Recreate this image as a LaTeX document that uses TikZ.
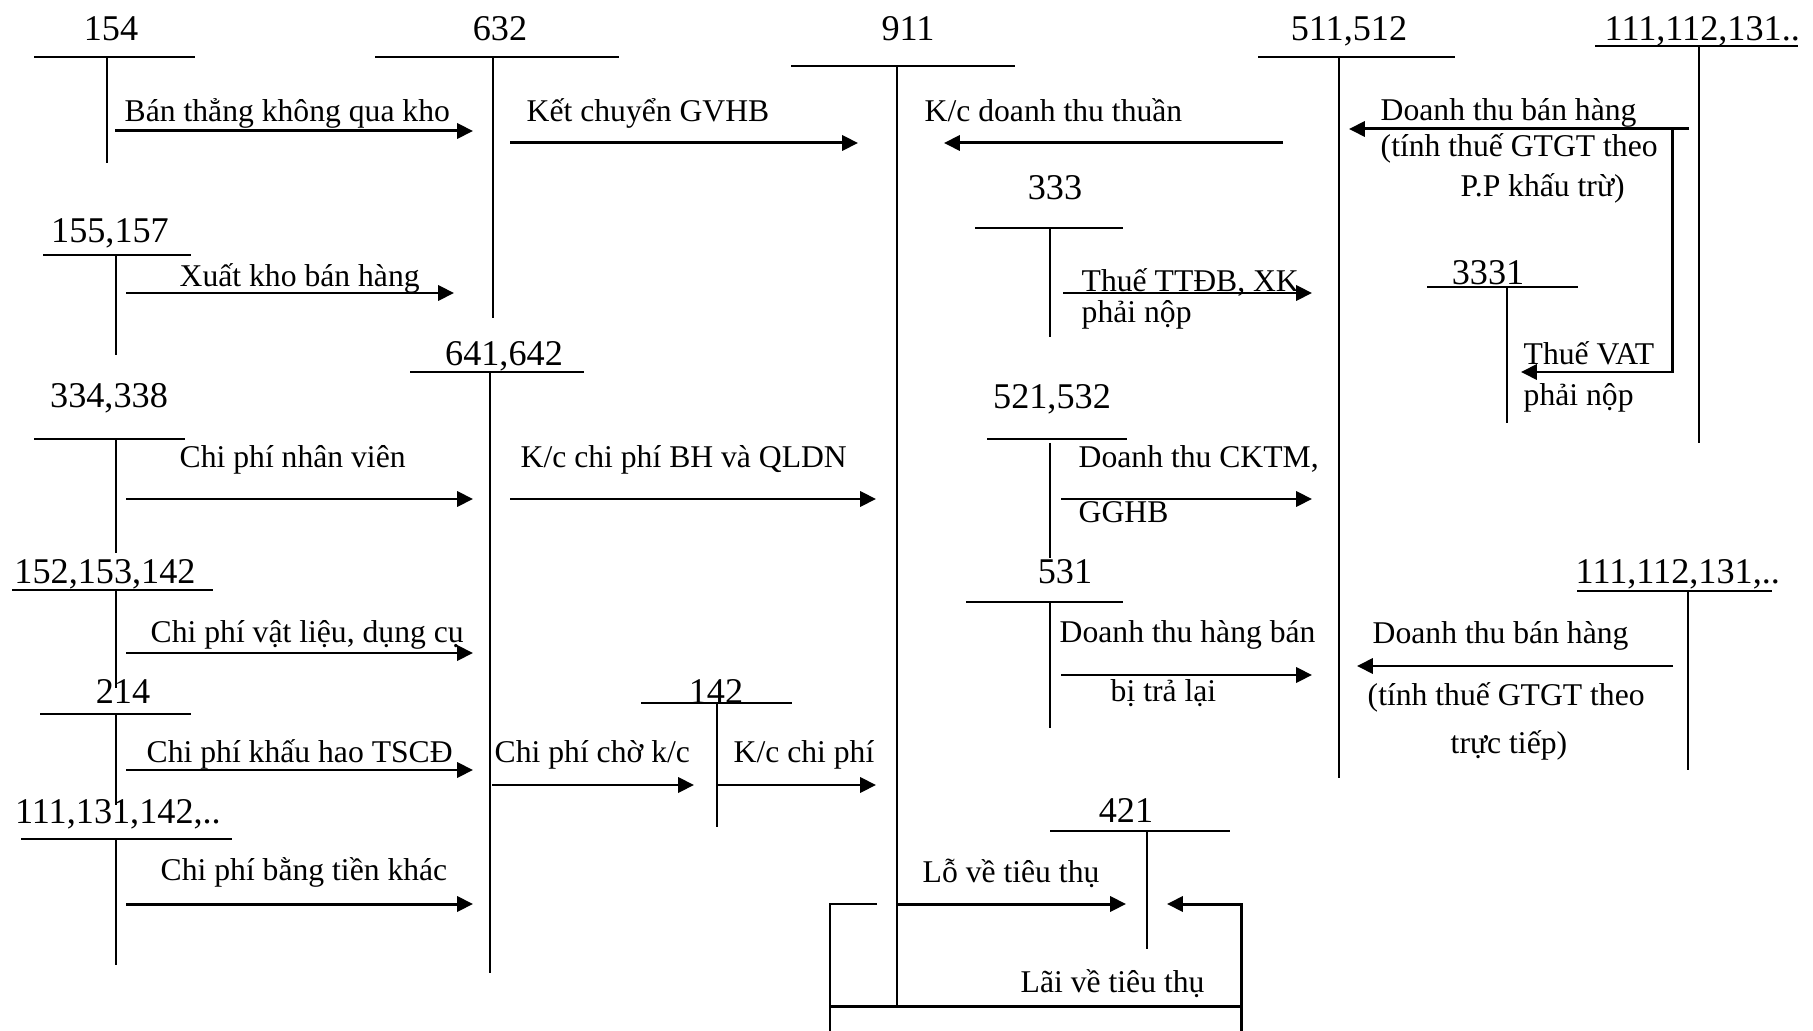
\documentclass[tikz,border=0pt]{standalone}
\usepackage{fontspec}
\setmainfont{Liberation Serif}
\usetikzlibrary{arrows.meta}

\begin{document}
\begin{tikzpicture}[x=0.01cm, y=-0.01cm,
    acc/.style={anchor=base, inner sep=0pt, font=\fontsize{10.3}{12}\selectfont},
    lbl/.style={anchor=base west, inner sep=0pt, font=\fontsize{9}{11}\selectfont},
    tline/.style={line width=0.6pt},
    arr/.style={-{Triangle[length=4.5pt, width=4.3pt]}, line width=0.85pt},
    link/.style={line width=0.85pt}
]
    \useasboundingbox (0,0) rectangle (1813,1031);

    % account names
    \node[acc] (a154)  at (111,41)   {154};
    \node[acc] (a632)  at (500,41)   {632};
    \node[acc] (a911)  at (908,41)   {911};
    \node[acc] (a511)  at (1349,41)  {511,512};
    \node[acc, anchor=base west] (a111t) at (1604,41) {111,112,131..};
    \node[acc] (a333)  at (1055,200) {333};
    \node[acc] (a3331) at (1488,285) {3331};
    \node[acc] (a155)  at (110,243)  {155,157};
    \node[acc] (a641)  at (504,366)  {641,642};
    \node[acc] (a334)  at (109,408)  {334,338};
    \node[acc] (a152)  at (105,583)  {152,153,142};
    \node[acc] (a214)  at (123,703)  {214};
    \node[acc] (a111l) at (118,823)  {111,131,142,..};
    \node[acc] (a142)  at (716,703)  {142};
    \node[acc] (a521)  at (1052,409) {521,532};
    \node[acc] (a531)  at (1065,583) {531};
    \node[acc, anchor=base west] (a111b) at (1575,583) {111,112,131,..};
    \node[acc] (a421)  at (1126,822) {421};

    % T accounts
    \draw[tline] (34,57) -- (195,57) (107,57) -- (107,163);
    \draw[tline] (375,57) -- (619,57) (493,57) -- (493,318);
    \draw[tline] (791,66) -- (1015,66) (897,66) -- (897,1006);
    \draw[tline] (1258,57) -- (1455,57) (1339,57) -- (1339,778);
    \draw[tline] (1595,46) -- (1798,46) (1699,46) -- (1699,443);
    \draw[tline] (975,228) -- (1123,228) (1050,228) -- (1050,337);
    \draw[tline] (1427,287) -- (1578,287) (1507,287) -- (1507,423);
    \draw[tline] (43,255) -- (191,255) (116,255) -- (116,355);
    \draw[tline] (410,372) -- (584,372) (490,372) -- (490,973);
    \draw[tline] (34,439) -- (185,439) (116,439) -- (116,553);
    \draw[tline] (12,590) -- (213,590) (116,590) -- (116,688);
    \draw[tline] (40,714) -- (191,714) (116,714) -- (116,805);
    \draw[tline] (21,839) -- (232,839) (116,839) -- (116,965);
    \draw[tline] (641,703) -- (792,703) (717,703) -- (717,827);
    \draw[tline] (987,439) -- (1127,439) (1050,443) -- (1050,558);
    \draw[tline] (966,602) -- (1123,602) (1050,602) -- (1050,728);
    \draw[tline] (1577,591) -- (1772,591) (1688,591) -- (1688,770);
    \draw[tline] (1050,831) -- (1230,831) (1147,831) -- (1147,949);

    % texts
    \node[lbl] (tBan)   at (124,122)  {Bán thẳng không qua kho};
    \node[lbl] (tKet)   at (526,122)  {Kết chuyển GVHB};
    \node[lbl] (tKcDt)  at (924,122)  {K/c doanh thu thuần};
    \node[lbl] (tDtA)   at (1380,121) {Doanh thu bán hàng};
    \node[lbl] (tDtAb)  at (1380,157) {(tính thuế GTGT theo};
    \node[lbl] (tDtAc)  at (1460,197) {P.P khấu trừ)};
    \node[lbl] (tVat)   at (1523,365) {Thuế VAT};
    \node[lbl] (tVatb)  at (1523,406) {phải nộp};
    \node[lbl] (tTtdb)  at (1081,292) {Thuế TTĐB, XK};
    \node[lbl] (tTtdbb) at (1081,323) {phải nộp};
    \node[lbl] (tXuat)  at (179,287)  {Xuất kho bán hàng};
    \node[lbl] (tNv)    at (179,468)  {Chi phí nhân viên};
    \node[lbl] (tBh)    at (520,468)  {K/c chi phí BH và QLDN};
    \node[lbl] (tCk)    at (1078,468) {Doanh thu CKTM,};
    \node[lbl] (tCkb)   at (1078,523) {GGHB};
    \node[lbl] (tVl)    at (150,642)  {Chi phí vật liệu, dụng cụ};
    \node[lbl] (tTl)    at (1059,642) {Doanh thu hàng bán};
    \node[lbl] (tTlb)   at (1110,701) {bị trả lại};
    \node[lbl] (tDtB)   at (1372,643) {Doanh thu bán hàng};
    \node[lbl] (tDtBb)  at (1367,705) {(tính thuế GTGT theo};
    \node[lbl] (tDtBc)  at (1450,753) {trực tiếp)};
    \node[lbl] (tKh)    at (146,762)  {Chi phí khấu hao TSCĐ};
    \node[lbl] (tCho)   at (494,762)  {Chi phí chờ k/c};
    \node[lbl] (tKcCp)  at (733,762)  {K/c chi phí};
    \node[lbl] (tTien)  at (160,880)  {Chi phí bằng tiền khác};
    \node[lbl] (tLo)    at (922,882)  {Lỗ về tiêu thụ};
    \node[lbl] (tLai)   at (1020,992) {Lãi về tiêu thụ};

    % arrow ends
    \coordinate (banS) at (115,131);   \coordinate (banE) at (473,131);
    \coordinate (ketS) at (510,143);   \coordinate (ketE) at (858,143);
    \coordinate (dtS)  at (1283,143);  \coordinate (dtE)  at (944,143);
    \coordinate (dtaS) at (1689,129);  \coordinate (dtaE) at (1349,129);
    \coordinate (vatS) at (1672,129);  \coordinate (vatM) at (1672,372);
    \coordinate (vatE) at (1521,372);
    \coordinate (ttS)  at (1063,293);  \coordinate (ttE)  at (1312,293);
    \coordinate (xkS)  at (126,293);   \coordinate (xkE)  at (454,293);
    \coordinate (nvS)  at (126,499);   \coordinate (nvE)  at (473,499);
    \coordinate (bhS)  at (510,499);   \coordinate (bhE)  at (876,499);
    \coordinate (ckS)  at (1061,499);  \coordinate (ckE)  at (1312,499);
    \coordinate (vlS)  at (126,653);   \coordinate (vlE)  at (473,653);
    \coordinate (tlS)  at (1061,675);  \coordinate (tlE)  at (1312,675);
    \coordinate (dtbS) at (1673,666);  \coordinate (dtbE) at (1357,666);
    \coordinate (khS)  at (126,770);   \coordinate (khE)  at (473,770);
    \coordinate (chS)  at (492,785);   \coordinate (chE)  at (694,785);
    \coordinate (kcS)  at (717,785);   \coordinate (kcE)  at (876,785);
    \coordinate (tkS)  at (126,904);   \coordinate (tkE)  at (473,904);
    \coordinate (loS)  at (897,904);   \coordinate (loE)  at (1126,904);
    \coordinate (lbA)  at (877,904);   \coordinate (lbB)  at (830,904);
    \coordinate (lbC)  at (830,1031);
    \coordinate (rbA)  at (1241,1031); \coordinate (rbB)  at (1241,904);
    \coordinate (rbC)  at (1167,904);
    \coordinate (btL)  at (830,1006);  \coordinate (btR)  at (1241,1006);

    \draw[arr] (banS) -- (banE);
    \draw[arr] (ketS) -- (ketE);
    \draw[arr] (dtS) -- (dtE);
    \draw[arr] (dtaS) -- (dtaE);
    \draw[arr] (vatS) -- (vatM) -- (vatE);
    \draw[arr] (ttS) -- (ttE);
    \draw[arr] (xkS) -- (xkE);
    \draw[arr] (nvS) -- (nvE);
    \draw[arr] (bhS) -- (bhE);
    \draw[arr] (ckS) -- (ckE);
    \draw[arr] (vlS) -- (vlE);
    \draw[arr] (tlS) -- (tlE);
    \draw[arr] (dtbS) -- (dtbE);
    \draw[arr] (khS) -- (khE);
    \draw[arr] (chS) -- (chE);
    \draw[arr] (kcS) -- (kcE);
    \draw[arr] (tkS) -- (tkE);
    \draw[arr] (loS) -- (loE);

    % result to 421
    \draw[tline] (lbA) -- (lbB) -- (lbC);
    \draw[arr] (rbA) -- (rbB) -- (rbC);
    \draw[link] (btL) -- (btR);
\end{tikzpicture}
\end{document}
